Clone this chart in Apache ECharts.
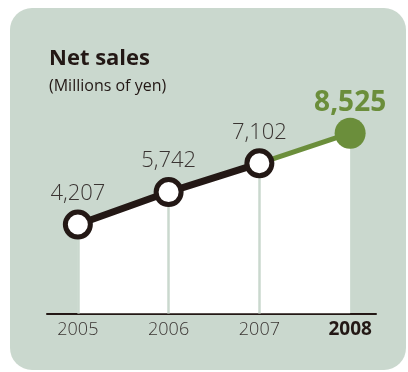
<!DOCTYPE html>
<html>
<head>
<meta charset="utf-8">
<script src="https://cdn.jsdelivr.net/npm/echarts@6/dist/echarts.min.js"></script>
<style>
  html, body { margin: 0; padding: 0; background: #ffffff; }
  #panel {
    position: absolute; left: 10px; top: 8px; width: 396px; height: 362px;
    background: #cad8ce; border-radius: 22px;
  }
  #chart { position: absolute; left: 0; top: 0; width: 408px; height: 372px; }
</style>
</head>
<body>
<div id="panel"></div>
<div id="chart"></div>
<script>
// Net sales by fiscal year (millions of yen)
const years = [2005, 2006, 2007, 2008];
const sales = [4207, 5742, 7102, 8525];
const highlightYear = 2008;

const ink = '#231815';
const green = '#6b8e3b';
const panelColor = '#cad8ce';
const font = "'Open Sans', 'Noto Sans', sans-serif";

const fmt = v => v.toLocaleString('en-US');
const points = years.map((y, i) => [y, sales[i]]);
const last = points.length - 1;

// Past years in black, latest year segment in green
const pastPoints = points.slice(0, last);
const latestPoints = points.slice(last - 1);

const chart = echarts.init(document.getElementById('chart'), null, { renderer: 'canvas' });

chart.setOption({
  animation: false,
  title: {
    text: 'Net sales',
    subtext: '(Millions of yen)',
    left: 44,
    top: 43,
    itemGap: 8,
    textStyle: { fontFamily: font, fontSize: 22, fontWeight: 'bold', color: ink },
    subtextStyle: { fontFamily: font, fontSize: 16, color: ink }
  },
  grid: { left: 47, right: 32, top: 102, bottom: 58.5 },
  xAxis: {
    type: 'value',
    min: 2004.66,
    max: 2008.285,
    splitLine: { show: false },
    axisTick: { show: false },
    axisLine: { show: true, lineStyle: { color: ink, width: 2 } },
    axisLabel: {
      customValues: years,
      margin: 7,
      fontFamily: font,
      fontSize: 18,
      fontWeight: 300,
      color: '#3a3432',
      formatter: v => v === highlightYear ? '{b|' + v + '}' : String(v),
      rich: {
        b: { fontFamily: font, fontSize: 19, fontWeight: 'bold', color: ink }
      }
    }
  },
  yAxis: {
    type: 'value',
    min: 0,
    max: 10000,
    show: false
  },
  series: [
    {
      // white area under the line, with light drop lines at past years
      name: 'area',
      type: 'line',
      z: 1,
      data: points,
      symbol: 'none',
      lineStyle: { width: 0 },
      areaStyle: { color: '#ffffff', opacity: 1 },
      silent: true,
      markLine: {
        z: 2,
        silent: true,
        symbol: 'none',
        label: { show: false },
        lineStyle: { color: panelColor, width: 2.5, type: 'solid' },
        data: pastPoints.map(p => [{ coord: [p[0], 0] }, { coord: [p[0], p[1]] }])
      }
    },
    {
      name: 'latest',
      type: 'line',
      z: 3,
      data: latestPoints.map((p, i) => ({
        value: p,
        symbol: i === 0 ? 'none' : 'circle',
        symbolSize: 31,
        label: { show: i !== 0 }
      })),
      lineStyle: { color: green, width: 5 },
      itemStyle: { color: green },
      label: {
        position: 'top',
        distance: 1,
        fontFamily: font,
        fontSize: 28,
        fontWeight: 'bold',
        color: green,
        formatter: p => fmt(p.value[1])
      }
    },
    {
      name: 'past',
      type: 'line',
      z: 4,
      data: pastPoints,
      symbol: 'circle',
      symbolSize: 25,
      lineStyle: { color: ink, width: 7 },
      itemStyle: { color: '#ffffff', borderColor: ink, borderWidth: 5 },
      label: {
        show: true,
        position: 'top',
        distance: 5,
        fontFamily: font,
        fontSize: 22,
        fontWeight: 300,
        color: '#3a3432',
        formatter: p => fmt(p.value[1])
      }
    }
  ]
});
</script>
</body>
</html>
